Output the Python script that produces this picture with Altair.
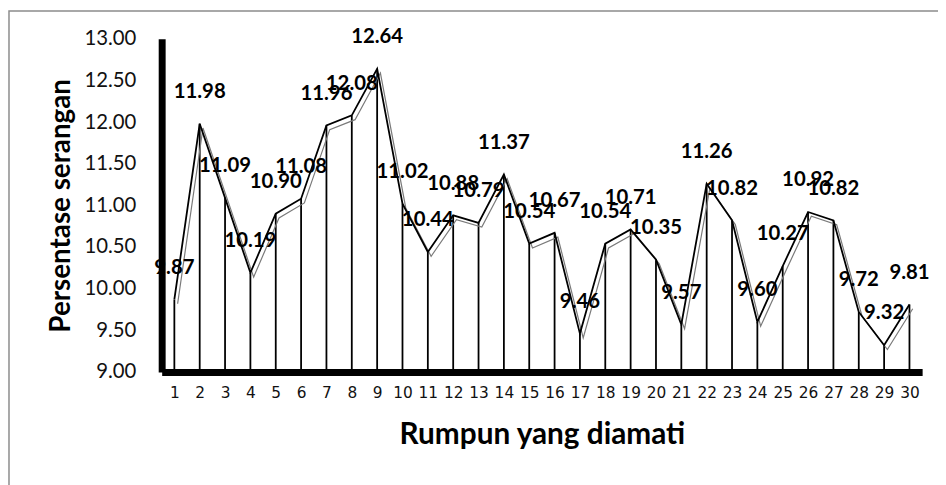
import altair as alt
import pandas as pd

rumpun = list(range(1, 31))
persentase = [9.87, 11.98, 11.09, 10.19, 10.90, 11.08, 11.96, 12.08, 12.64, 11.02,
              10.44, 10.88, 10.79, 11.37, 10.54, 10.67, 9.46, 10.54, 10.71, 10.35,
              9.57, 11.26, 10.82, 9.60, 10.27, 10.92, 10.82, 9.72, 9.32, 9.81]
y_ticks = [9.0, 9.5, 10.0, 10.5, 11.0, 11.5, 12.0, 12.5, 13.0]

df = pd.DataFrame({"rumpun": rumpun, "nilai": persentase})
df["label"] = [f"{v:.2f}" for v in persentase]

FONT = "Lato"

x_enc = alt.X("rumpun:Q",
              scale=alt.Scale(domain=[0.5, 30.5], nice=False, zero=False),
              axis=alt.Axis(values=rumpun, title="Rumpun yang diamati",
                            labelFont="DejaVu Sans", labelFontSize=15.5, labelColor="#111111",
                            labelPadding=14, labelAngle=0,
                            ticks=False, grid=False,
                            domainColor="black", domainWidth=7,
                            titleFont=FONT, titleFontSize=30, titleFontWeight="bold",
                            titleColor="black", titlePadding=19))
y_enc = alt.Y("nilai:Q",
              scale=alt.Scale(domain=[9, 13], nice=False, zero=False),
              axis=alt.Axis(values=y_ticks, format=".2f", title="Persentase serangan",
                            labelFont=FONT, labelFontSize=20.5, labelColor="#111111",
                            labelPadding=26, ticks=False, grid=False,
                            domainColor="black", domainWidth=7,
                            titleFont=FONT, titleFontSize=28, titleFontWeight="bold",
                            titleColor="black", titlePadding=9))

base = alt.Chart(df)

border = alt.Chart(pd.DataFrame({"a": [0]})).mark_rect(
    fill=None, stroke="#8c8c8c", strokeWidth=1.5
).encode(x=alt.value(-154), x2=alt.value(820), y=alt.value(-28), y2=alt.value(470))

drops = base.mark_rule(color="black", strokeWidth=1.8).encode(
    x=x_enc, y=y_enc, y2=alt.datum(9))

gray_line = base.mark_line(color="#7a7a7a", strokeWidth=1.2, xOffset=3.3, yOffset=4.3).encode(
    x=x_enc, y=y_enc)

black_line = base.mark_line(color="black", strokeWidth=1.8).encode(x=x_enc, y=y_enc)

labels = base.mark_text(font=FONT, fontSize=20.5, fontWeight="bold", color="black",
                        dy=-32, baseline="middle", align="center").encode(
    x=x_enc, y=y_enc, text="label:N")

chart = alt.layer(border, drops, gray_line, black_line, labels).properties(
    width=767, height=336,
    autosize=alt.AutoSizeParams(type="none"),
    padding={"left": 155, "top": 29, "right": 16, "bottom": 112},
    background="white",
).configure_view(stroke=None)

chart.save("out.html", embed_options={"renderer": "svg", "actions": False})
